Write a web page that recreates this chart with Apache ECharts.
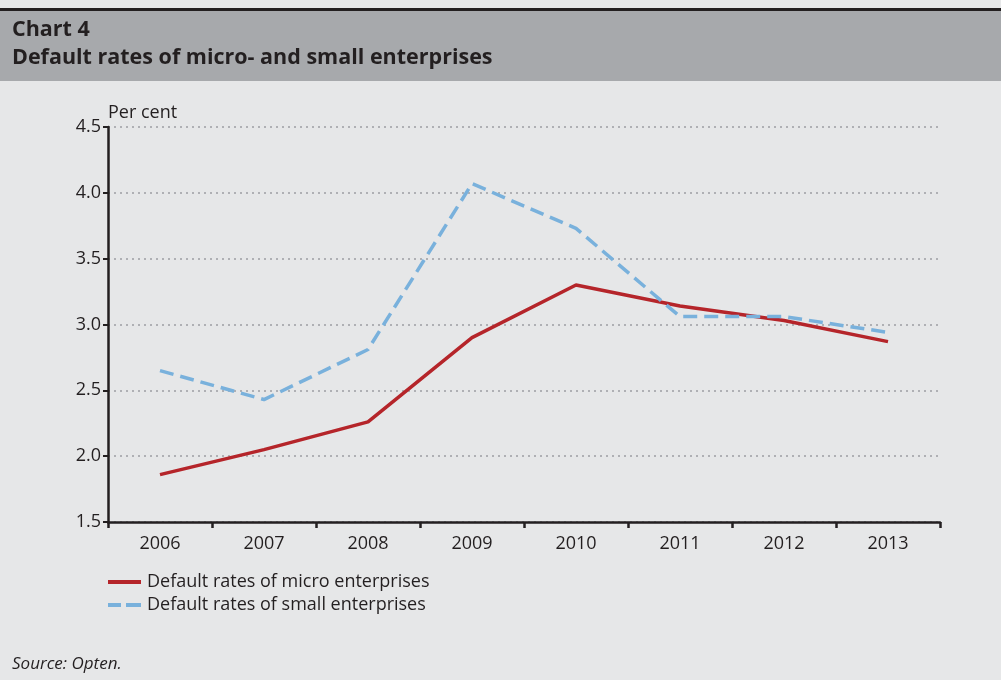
<!DOCTYPE html>
<html><head><meta charset="utf-8">
<script src="https://cdn.jsdelivr.net/npm/echarts@6/dist/echarts.min.js"></script>
<style>html,body{margin:0;padding:0;background:#e6e7e8;}#c{width:1001px;height:680px;}</style>
</head><body><div id="c"></div>
<script>
const years = ['2006','2007','2008','2009','2010','2011','2012','2013'];
const microRates = [1.86, 2.05, 2.26, 2.90, 3.30, 3.14, 3.03, 2.87];
const smallRates = [2.65, 2.43, 2.81, 4.07, 3.73, 3.06, 3.06, 2.94];
const microName = 'Default rates of micro enterprises';
const smallName = 'Default rates of small enterprises';

const FONT = 'Open Sans';
const chart = echarts.init(document.getElementById('c'));
chart.setOption({
  backgroundColor: '#e6e7e8',
  animation: false,
  textStyle: { fontFamily: FONT },
  graphic: [
    { type: 'rect', shape: { x: 0, y: 8, width: 1001, height: 3 }, style: { fill: '#231f20' } },
    { type: 'rect', shape: { x: 0, y: 11, width: 1001, height: 70 }, style: { fill: '#a7a9ac' } },
    { type: 'text', left: 12, top: 19, style: { text: 'Chart 4', font: 'bold 21.5px ' + FONT, fill: '#231f20' } },
    { type: 'text', left: 12, top: 47, style: { text: 'Default rates of micro- and small enterprises', font: 'bold 21.5px ' + FONT, fill: '#231f20' } },
    { type: 'text', left: 12, top: 656, style: { text: 'Source: Opten.', font: 'italic 17px ' + FONT, fill: '#231f20' } }
  ],
  grid: { left: 108, right: 61, top: 127, bottom: 158 },
  legend: {
    orient: 'vertical', left: 103, top: 568, itemWidth: 33, itemHeight: 12, itemGap: 5,
    textStyle: { fontSize: 18, color: '#231f20', fontFamily: FONT, padding: [0, 0, 0, 1] },
    data: [
      { name: microName, icon: 'path://M0,0L33,0L33,4L0,4Z' },
      { name: smallName, icon: 'path://M0,0L13,0L13,4L0,4ZM18,0L33,0L33,4L18,4Z' }
    ]
  },
  xAxis: {
    type: 'category', data: years, boundaryGap: true,
    axisLine: { lineStyle: { color: '#231f20', width: 2.5 } },
    axisTick: { show: true, interval: 0, length: 6, lineStyle: { color: '#231f20', width: 2.5 } },
    axisLabel: { fontSize: 18, color: '#231f20', margin: 13 },
    splitLine: { show: false }
  },
  yAxis: {
    type: 'value', min: 1.5, max: 4.5, interval: 0.5,
    name: 'Per cent', nameLocation: 'end', nameGap: 5,
    nameTextStyle: { fontSize: 18, color: '#231f20', align: 'left', padding: [0, 0, 0, 0] },
    axisLine: { show: true, lineStyle: { color: '#231f20', width: 2.5 } },
    axisTick: { show: true, length: 5, lineStyle: { color: '#231f20', width: 2 } },
    axisLabel: { fontSize: 18, color: '#231f20', margin: 7, formatter: v => v.toFixed(1) },
    splitLine: { show: true, lineStyle: { color: '#9d9fa2', type: [2, 4], width: 1.5 } }
  },
  series: [
    { name: microName, type: 'line', data: microRates, symbol: 'none',
      lineStyle: { color: '#b5252a', width: 3.5 }, itemStyle: { color: '#b5252a' }, z: 2 },
    { name: smallName, type: 'line', data: smallRates, symbol: 'none',
      lineStyle: { color: '#79b1dc', width: 3.5, type: [14, 7] }, itemStyle: { color: '#79b1dc' }, z: 3 }
  ]
});
</script></body></html>
